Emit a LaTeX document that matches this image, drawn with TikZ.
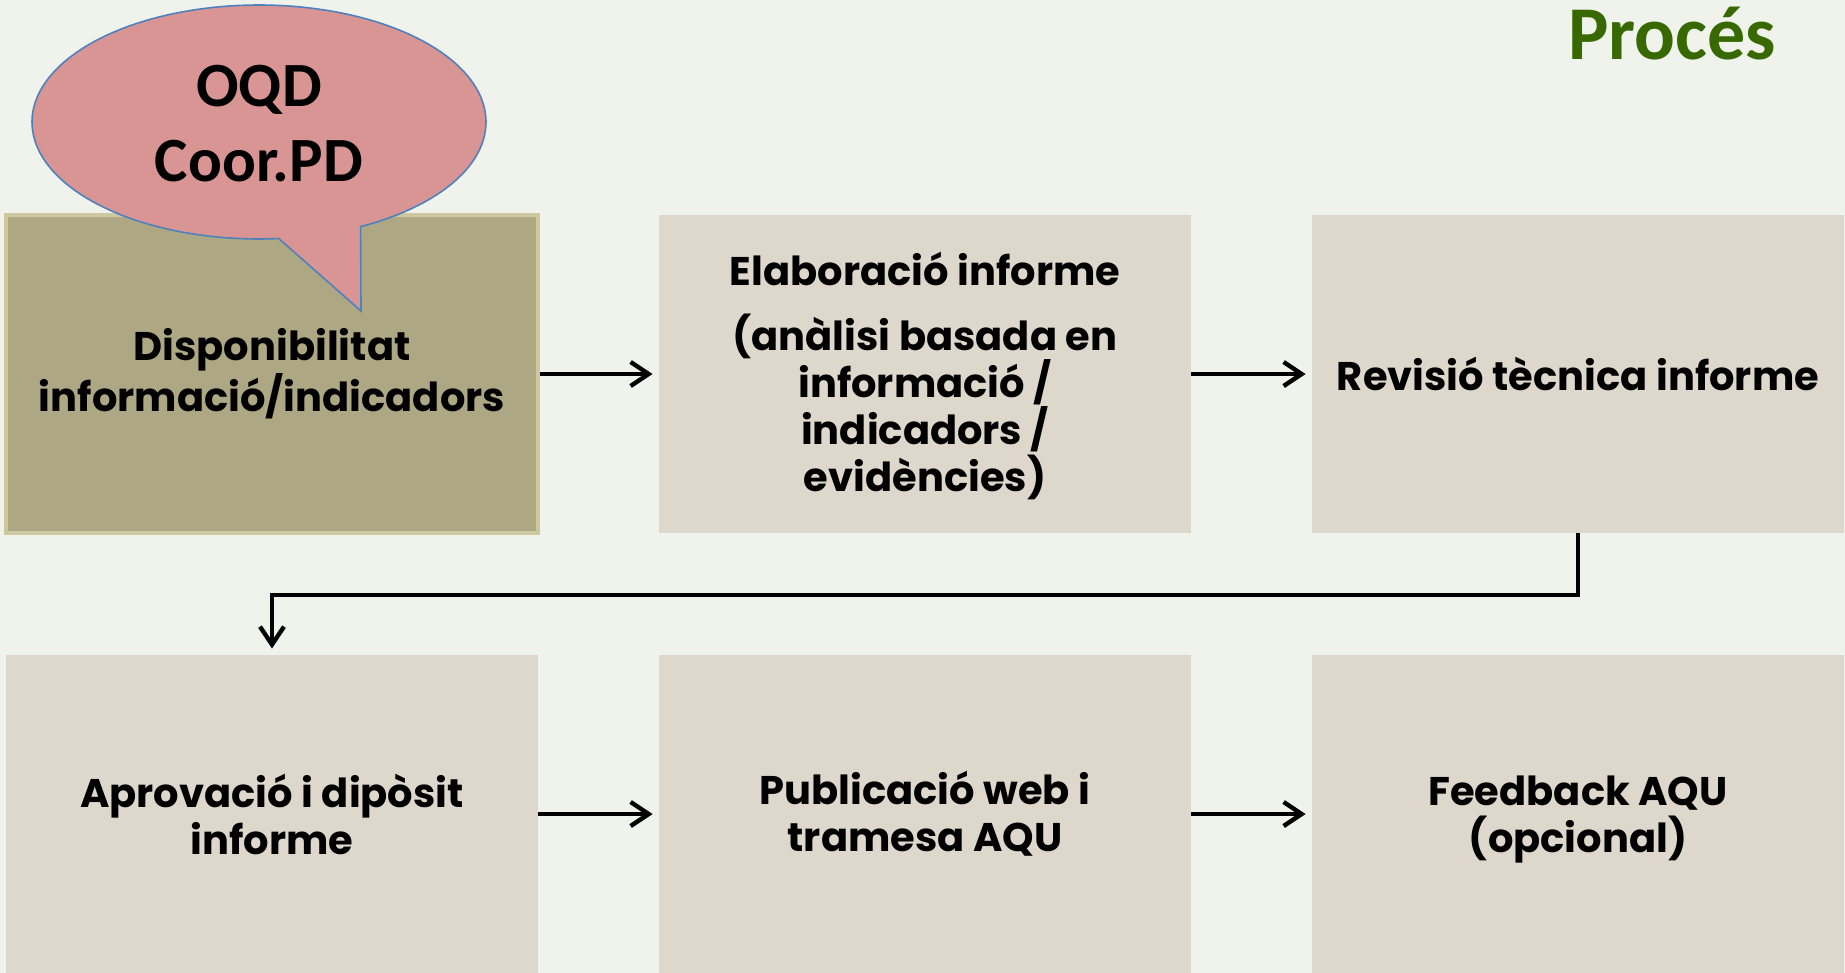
\documentclass[tikz,border=0pt]{standalone}
\usepackage{fontspec}
\setmainfont{Poppins}
\newfontfamily\calib{Carlito}
\usetikzlibrary{arrows.meta}

\definecolor{bgcol}{RGB}{239,243,236}
\definecolor{boxcol}{RGB}{221,215,204}
\definecolor{olivecol}{RGB}{173,167,132}
\definecolor{olivelight}{RGB}{206,200,160}
\definecolor{pinkcol}{RGB}{217,149,148}
\definecolor{bluecol}{RGB}{79,129,189}
\definecolor{greencol}{RGB}{55,105,0}

\begin{document}
\begin{tikzpicture}[x=0.5pt,y=-0.5pt,
  stepbox/.style={rectangle, fill=boxcol, minimum width=266pt, minimum height=159pt,
    inner sep=0pt, align=center, font=\bfseries\fontsize{20}{23.5}\selectfont},
  flow/.style={-{Straight Barb[length=9pt,width=12pt]}, line width=2.2pt, shorten >=3pt}]

\fill[bgcol] (0,0) rectangle (1845,973);
\useasboundingbox (0,0) rectangle (1845,973);

\node[font=\calib\bfseries\fontsize{38}{40}\selectfont, text=greencol, anchor=base] (title) at (1672,60) {Procés};

% first row
\node[stepbox, fill=olivecol, draw=olivelight, line width=2pt] (disp) at (272,374) {Disponibilitat\\informació/indicadors};
\node[stepbox] (elab) at (925,374) {\rule{0pt}{19pt}Elaboració informe\\[9pt](anàlisi basada en\\informació /\\indicadors /\\evidències)};
\node[stepbox] (revi) at (1578,374) {Revisió tècnica informe};

% second row
\node[stepbox] (apro) at (272,814) {Aprovació i dipòsit\\informe};
\node[stepbox] (publ) at (925,814) {Publicació web i\\tramesa AQU};
\node[stepbox] (feed) at (1578,814) {\rule{0pt}{20pt}Feedback AQU\\(opcional)};

\draw[flow] (disp) -- (elab);
\draw[flow] (elab) -- (revi);
\coordinate (turn) at (272,595);
\draw[flow] (revi.south) |- (turn) -- (apro.north);
\draw[flow] (apro) -- (publ);
\draw[flow] (publ) -- (feed);

% speech bubble
\draw[fill=pinkcol, draw=bluecol, line width=0.8pt]
  plot[domain=63.4:-275, samples=150] ({259+227*cos(\x)},{122+117*sin(\x)}) -- (361,311) -- cycle;
\node[font=\calib\bfseries\fontsize{31.5}{37.5}\selectfont, align=center] (oqd) at (259,124) {OQD\\Coor.PD};
\end{tikzpicture}
\end{document}
